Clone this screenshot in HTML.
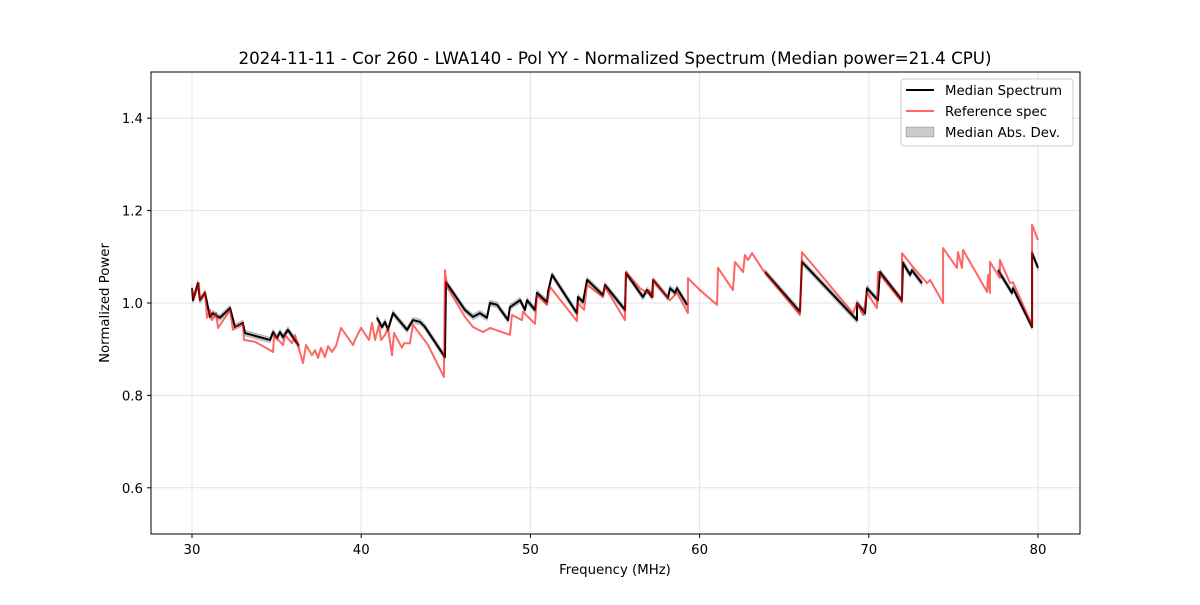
<!DOCTYPE html>
<html><head><meta charset="utf-8"><style>
body{margin:0;background:#fff;}
svg text{font-family:"DejaVu Sans","Liberation Sans",sans-serif;}
</style></head><body>
<svg id="chart" width="1200" height="600" viewBox="0 0 1200 600" xmlns="http://www.w3.org/2000/svg">
<rect width="1200" height="600" fill="#fff"/>
<text x="615" y="64" text-anchor="middle" font-size="16.7">2024-11-11 - Cor 260 - LWA140 - Pol YY - Normalized Spectrum (Median power=21.4 CPU)</text>
<g id="grid"></g><g id="band"></g><g id="lines"></g>
<rect x="151" y="72" width="929" height="462" fill="none" stroke="#000" stroke-width="1"/>
<g id="ticks"></g>
<text x="615" y="574" text-anchor="middle" font-size="13.3">Frequency (MHz)</text>
<text x="109" y="303" text-anchor="middle" font-size="13.3" transform="rotate(-90 109 303)">Normalized Power</text>
<g>
<rect x="901" y="79" width="172" height="67" rx="3" fill="#fff" fill-opacity="0.8" stroke="#ccc"/>
<g><line x1="906" y1="90" x2="934" y2="90" stroke="#000" stroke-width="2"/><text x="945" y="95" font-size="13.3">Median Spectrum</text></g>
<g><line x1="906" y1="111" x2="934" y2="111" stroke="#ff0000" stroke-opacity="0.6" stroke-width="2"/><text x="945" y="116" font-size="13.3">Reference spec</text></g>
<g><rect x="906" y="127" width="28" height="10" fill="#000" fill-opacity="0.2" stroke="#000" stroke-opacity="0.2"/><text x="945" y="137" font-size="13.3">Median Abs. Dev.</text></g>
</g>
</svg>
<script>
const xTicks=[30,40,50,60,70,80];
const yTicks=[0.6,0.8,1.0,1.2,1.4];
const yTickLabels=["0.6","0.8","1.0","1.2","1.4"];
const refFreq=[30.00,30.12,30.41,30.47,30.77,30.89,31.06,31.18,31.42,31.54,32.25,32.42,32.54,33.01,33.07,33.72,34.61,34.79,34.85,35.38,35.50,35.91,36.09,36.56,36.74,37.09,37.27,37.45,37.62,37.86,38.04,38.27,38.51,38.81,39.52,39.63,39.99,40.46,40.64,40.82,41.05,41.17,41.41,41.58,41.82,41.94,42.41,42.53,42.88,43.06,43.95,44.89,44.95,45.07,46.13,46.61,47.20,47.61,48.79,48.91,49.50,49.56,50.27,50.39,50.98,51.16,52.75,52.81,53.17,53.35,54.29,54.41,55.59,55.65,56.48,56.89,57.01,57.25,57.25,58.25,58.66,59.31,59.31,60.02,61.03,61.09,61.97,62.09,62.57,62.68,62.86,63.10,63.75,65.93,66.05,69.07,69.30,69.66,69.89,70.48,70.54,71.96,71.96,72.61,73.44,73.62,74.39,74.39,75.21,75.27,75.51,75.57,76.99,77.05,77.16,77.16,77.75,77.75,78.35,78.52,79.65,79.65,80.00];
const refPower=[1.032,1.011,1.043,1.006,1.024,0.968,0.985,0.963,0.978,0.946,0.985,0.942,0.948,0.955,0.920,0.916,0.898,0.894,0.931,0.909,0.931,0.913,0.931,0.870,0.909,0.887,0.898,0.881,0.903,0.883,0.907,0.894,0.907,0.946,0.909,0.920,0.946,0.920,0.957,0.920,0.953,0.920,0.931,0.946,0.887,0.935,0.903,0.913,0.913,0.953,0.909,0.840,1.071,1.035,0.970,0.948,0.937,0.946,0.931,0.974,0.963,0.981,0.955,1.017,0.996,1.035,0.961,1.000,0.985,1.039,1.013,1.035,0.963,1.067,1.032,1.022,1.028,1.013,1.050,1.006,1.022,0.978,1.054,1.028,0.996,1.076,1.028,1.089,1.067,1.104,1.093,1.108,1.071,0.974,1.110,0.978,1.000,0.974,1.022,0.989,1.067,1.002,1.108,1.078,1.043,1.050,1.000,1.119,1.076,1.110,1.076,1.115,1.024,1.061,1.022,1.089,1.054,1.093,1.043,1.045,0.952,1.169,1.136];
const medFreq=[30.00,30.06,30.35,30.47,30.77,31.06,31.24,31.65,32.25,32.54,33.01,33.13,34.61,34.79,35.02,35.20,35.38,35.67,36.32,null,40.93,41.23,41.41,41.58,41.88,42.71,43.06,43.48,43.77,44.95,45.01,46.13,46.61,47.02,47.43,47.61,48.03,48.68,48.79,49.39,49.68,49.80,50.27,50.39,50.98,51.04,51.28,52.75,52.81,53.11,53.35,54.29,54.41,55.59,55.65,56.65,56.89,57.19,57.25,58.13,58.25,58.55,58.66,59.26,null,63.87,65.93,66.05,69.30,69.30,69.78,69.89,70.54,70.66,71.96,72.02,72.44,72.55,73.14,null,77.64,78.46,78.52,79.65,79.65,80.00];
const medPower=[1.032,1.006,1.043,1.006,1.022,0.970,0.978,0.968,0.989,0.948,0.957,0.935,0.920,0.937,0.924,0.937,0.926,0.942,0.907,null,0.968,0.948,0.959,0.942,0.978,0.942,0.963,0.959,0.948,0.883,1.045,0.985,0.970,0.978,0.968,1.000,0.996,0.963,0.991,1.006,0.985,1.006,0.985,1.022,1.002,1.024,1.061,0.978,1.013,1.002,1.050,1.017,1.039,0.985,1.065,1.013,1.028,1.013,1.050,1.011,1.032,1.022,1.032,0.996,null,1.067,0.981,1.089,0.963,1.000,0.978,1.032,1.006,1.067,1.006,1.087,1.061,1.071,1.043,null,1.071,1.022,1.032,0.948,1.108,1.076];
const madValue=0.006;

const NS="http://www.w3.org/2000/svg";
const X=f=>192+(f-30)*16.92;
const Y=v=>534-(v-0.5)*462;
function mk(tag,attrs,parent){const e=document.createElementNS(NS,tag);for(const k in attrs)e.setAttribute(k,attrs[k]);parent.appendChild(e);return e;}
const grid=document.getElementById('grid'),ticks=document.getElementById('ticks'),band=document.getElementById('band'),lines=document.getElementById('lines');
xTicks.forEach(t=>{
  const g=mk('line',{x1:X(t),x2:X(t),y1:72,y2:534,stroke:'#e3e3e3','stroke-width':1},grid);
  
  
  const tk=mk('line',{x1:X(t),x2:X(t),y1:534,y2:538,stroke:'#000'},ticks);
  
  
  const tx=mk('text',{x:X(t),y:554,'text-anchor':'middle','font-size':13.3},ticks);
  tx.textContent=String(t);
  
  
});
yTicks.forEach((t,i)=>{
  const g=mk('line',{x1:151,x2:1080,y1:Y(t),y2:Y(t),stroke:'#e3e3e3','stroke-width':1},grid);
  
  
  const tk=mk('line',{x1:147,x2:151,y1:Y(t),y2:Y(t),stroke:'#000'},ticks);
  
  
  const tx=mk('text',{x:143,y:Y(t)+5,'text-anchor':'end','font-size':13.3},ticks);
  tx.textContent=yTickLabels[i];
  
  
});
function segments(fs,vs){const segs=[];let cur=[];fs.forEach((f,i)=>{if(f===null){if(cur.length)segs.push(cur);cur=[];}else cur.push([f,vs[i]]);});if(cur.length)segs.push(cur);return segs;}
const medSegs=segments(medFreq,medPower);
medSegs.forEach(s=>{
  const up=s.map(p=>X(p[0])+','+Y(p[1]+madValue));
  const dn=s.slice().reverse().map(p=>X(p[0])+','+Y(p[1]-madValue));
  const poly=mk('polygon',{points:up.concat(dn).join(' '),fill:'#000','fill-opacity':0.2,stroke:'#000','stroke-opacity':0.2},band);
  
  
});
medSegs.forEach(s=>{
  const pl=mk('polyline',{points:s.map(p=>X(p[0])+','+Y(p[1])).join(' '),fill:'none',stroke:'#000','stroke-width':2,'stroke-linejoin':'round'},lines);
  
  
});
const ref=mk('polyline',{points:refFreq.map((f,i)=>X(f)+','+Y(refPower[i])).join(' '),fill:'none',stroke:'#ff0000','stroke-opacity':0.6,'stroke-width':2,'stroke-linejoin':'round'},lines);


</script>
</body></html>
